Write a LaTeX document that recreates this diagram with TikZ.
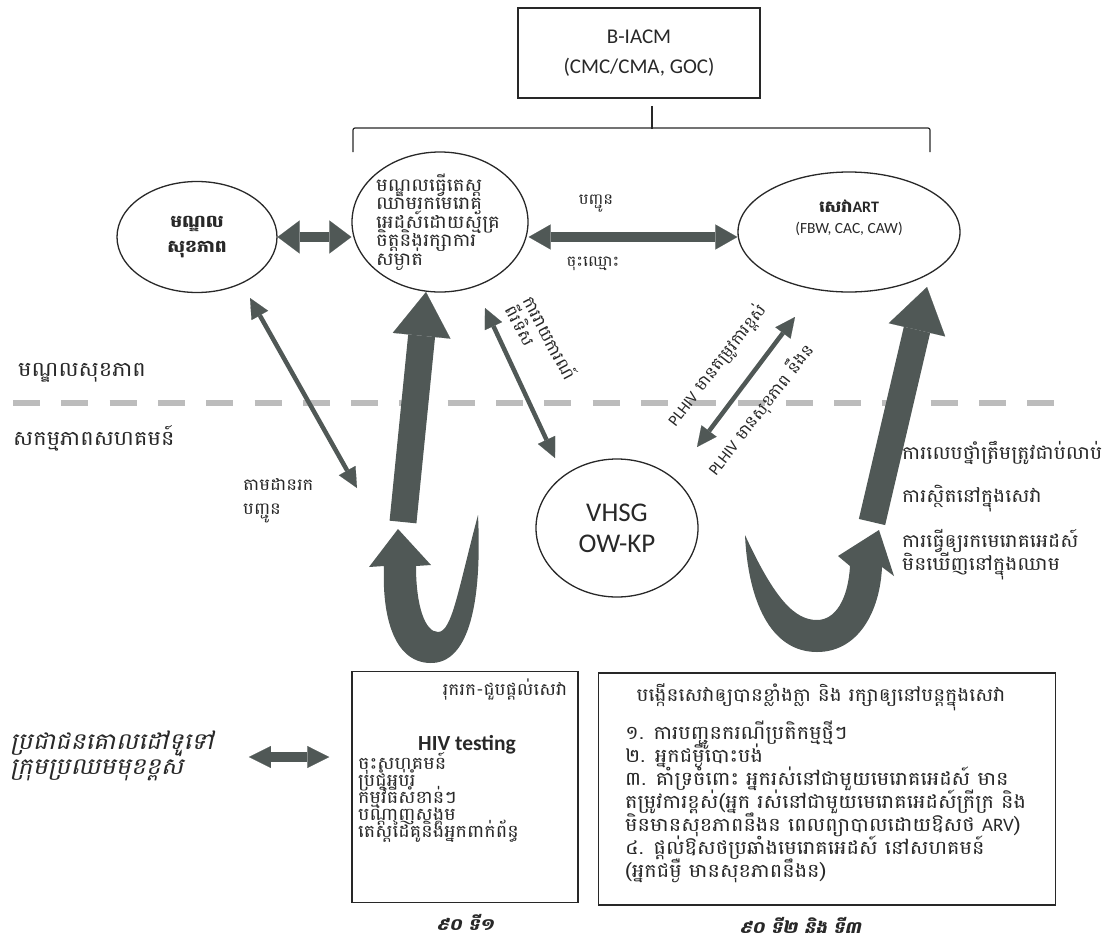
\documentclass[tikz,border=0pt]{standalone}
\usepackage{fontspec}
\setmainfont{Carlito}
\newfontfamily\kh[Script=Khmer,FakeStretch=1.1]{Battambang}
\newfontfamily\khit[Script=Khmer,FakeStretch=1.1,FakeSlant=0.22]{Battambang}
\usetikzlibrary{arrows.meta,shapes.geometric,positioning,calc}
\lineskiplimit=-100pt
\definecolor{arrgray}{RGB}{80,88,86}
\definecolor{inkgray}{RGB}{40,40,40}
\definecolor{dashgray}{RGB}{188,188,188}
\tikzset{
  ell/.style={ellipse,draw=inkgray,line width=1.3pt,inner sep=0pt},
  boxnode/.style={draw=inkgray,line width=1.5pt,inner sep=0pt},
  khtext/.style={font=\kh\fontsize{18}{20}\selectfont,text=inkgray,inner sep=0pt},
  thinarr/.style={arrgray,line width=4.5pt,
    {Triangle[width=19pt,length=20pt,line width=0.1pt]}-{Triangle[width=19pt,length=20pt,line width=0.1pt]}},
  widearr/.style={arrgray,line width=9.5pt,
    {Triangle[width=#1,length=22pt,line width=0.1pt]}-{Triangle[width=#1,length=22pt,line width=0.1pt]}},
  bigarr/.style={arrgray,line width=27pt,-{Triangle[width=58pt,length=44pt,line width=0.1pt]}},
  bracket/.style={inkgray,line width=1.2pt,rounded corners=2pt},
}
\begin{document}
\begin{tikzpicture}[x=1pt,y=-1pt]
\useasboundingbox (0,0) rectangle (1114,943);
% divider between facility and community
\draw[dashgray,line width=6pt,dash pattern=on 27pt off 21.3pt] (13,403) -- (1056,403);
\node[khtext,anchor=west,font=\kh\fontsize{20.5}{22}\selectfont] (facility) at (18,373) {មណ្ឌលសុខភាព};
\node[khtext,anchor=west,font=\kh\fontsize{20.5}{22}\selectfont] (community) at (13,438) {សកម្មភាពសហគមន៍};

% top box
\node[boxnode,minimum width=242,minimum height=90,align=center,font=\fontsize{21}{30}\selectfont,text=inkgray] (biacm) at (639,53) {B-IACM\\(CMC/CMA, GOC)};
\draw[bracket] (353,152) |- (930,128) -- (930,152);
\draw[bracket] ([xshift=13pt,yshift=-7pt]biacm.south) -- ++(0,23);

% services
\node[ell,minimum width=160,minimum height=111,align=center,khtext,font=\kh\bfseries\fontsize{17}{25}\selectfont] (health) at (197,237) {មណ្ឌល\\សុខភាព};
\node[ell,minimum width=176,minimum height=140] (vct) at (440,222) {};
\node[khtext,align=left,font=\kh\fontsize{18}{18.5}\selectfont] (vcttext) at ([xshift=-2pt]vct) {មណ្ឌលធ្វើតេស្ត\\ឈាមរកមេរោគ\\អេដស៍ដោយស្ម័គ្រ\\ចិត្តនិងរក្សាការ\\សម្ងាត់};
\node[ell,minimum width=222,minimum height=120] (art) at (849,232) {};
\node[khtext,align=center,font=\kh\fontsize{16}{18}\selectfont] (arttext) at (849,218) {{\bfseries សេវា{\normalfont\bfseries ART}}\\[3pt]{\normalfont\fontsize{15.5}{18}\selectfont (FBW, CAC, CAW)}};
\node[ell,minimum width=162,minimum height=138,align=center,font=\fontsize{27}{31}\selectfont,text=inkgray] (vhsg) at (617,528) {VHSG\\OW-KP};

\draw[widearr=33pt] (health.east) -- (vct.west |- health.east);
\draw[widearr=25pt] ($(vct.east |- art.west)+(0,5)$) -- ($(art.west)+(0,5)$);
\node[khtext,font=\kh\fontsize{15}{18}\selectfont] (refer) at (596,204) {បញ្ជូន};
\node[khtext,font=\kh\fontsize{15}{18}\selectfont] (regist) at (593,264) {ចុះឈ្មោះ};

% thin links
\coordinate (hvA) at (250,298);
\coordinate (hvB) at (357,488);
\coordinate (vtA) at (485,308);
\coordinate (vtB) at (555,458);
\coordinate (plA) at (697,447);
\coordinate (plB) at (795,317);
\draw[thinarr] (hvA) -- (hvB);
\draw[thinarr] (vtA) -- (vtB);
\draw[thinarr] (plA) -- (plB);
\node[khtext,align=left,anchor=north west,font=\kh\fontsize{16.5}{24}\selectfont] (followup) at (243,478) {តាមដានរក\\បញ្ជូន};
\node[khtext,align=left,rotate=-62,font=\kh\fontsize{16.5}{20}\selectfont] (report) at (542,342) {ការរាយការណ៍\\ពីរទិស};
\node[khtext,rotate=52,font=\kh\fontsize{16}{18}\selectfont] (plhivhigh) at (717,365) {{\normalfont PLHIV} មានតម្រូវការខ្ពស់};
\node[khtext,rotate=52,font=\kh\fontsize{16}{18}\selectfont] (plhivstable) at (761,410) {{\normalfont PLHIV} មានសុខភាព នឹងន};

% big arrows
\coordinate (bigL0) at (403,522);
\coordinate (bigL1) at (426,292);
\coordinate (bigR0) at (872,522);
\coordinate (bigR1) at (927,287);
\draw[bigarr] (bigL0) -- (bigL1);
\draw[bigarr] (bigR0) -- (bigR1);

% curved arrows
\fill[arrgray] (478,515) .. controls (482,600) and (470,664) .. (430,663)
  .. controls (392,662) and (382,612) .. (384,566) -- (369,567) -- (398,529)
  -- (431,565) -- (416,566) .. controls (416,606) and (425,632) .. (438,632)
  .. controls (452,632) and (458,590) .. (478,515) -- cycle;
\fill[arrgray] (745,535) .. controls (748,600) and (770,652) .. (817,652)
  .. controls (858,652) and (880,612) .. (882,567) -- (894,576) -- (879,530)
  -- (838,556) -- (850,566) .. controls (848,600) and (835,620) .. (817,620)
  .. controls (795,620) and (775,600) .. (745,535) -- cycle;

\node[khtext,anchor=west,font=\kh\fontsize{18.5}{20}\selectfont] (adher) at (902,453) {ការលេបថ្នាំត្រឹមត្រូវជាប់លាប់};
\node[khtext,anchor=west,font=\kh\fontsize{18.5}{20}\selectfont] (retain) at (902,499) {ការស្ថិតនៅក្នុងសេវា};
\node[khtext,anchor=west,align=left,font=\kh\fontsize{18.5}{23}\selectfont] (suppress) at (902,555) {ការធ្វើឲ្យរកមេរោគអេដស៍\\មិនឃើញនៅក្នុងឈាម};

% bottom boxes
\node[khtext,anchor=west,align=left,font=\khit\fontsize{23}{25}\selectfont] (target) at (10,756) {ប្រជាជនគោលដៅទូទៅ\\ក្រុមប្រឈមមុខខ្ពស់};
\node[boxnode,minimum width=226,minimum height=231] (find) at (465,787) {};
\draw[widearr=22pt] ($(target.east |- find.west)+(35,-30)$) -- ($(find.west)+(-22,-30)$);
\node[khtext,font=\kh\fontsize{17}{18}\selectfont] (findtitle) at (505,690) {រុករក-ជួបផ្ដល់សេវា};
\node[font=\bfseries\fontsize{21.5}{24}\selectfont,text=inkgray,inner sep=0pt] (hivtest) at (467,745) {HIV testing};
\node[khtext,anchor=north west,align=left,font=\kh\fontsize{17.5}{17}\selectfont] (findlist) at (358,752) {ចុះសហគមន៍\\ប្រជុំអប់រំ\\កម្មវិធីសំខាន់ៗ\\បណ្ដាញសង្គម\\តេស្តដៃគូនិងអ្នកពាក់ព័ន្ធ};
\node[khtext,font=\khit\bfseries\fontsize{16.5}{20}\selectfont] (ninetyA) at (465,922) {៩០ ទី១};

\node[boxnode,minimum width=457,minimum height=232] (boost) at (827,789) {};
\node[khtext,font=\kh\fontsize{18.3}{20}\selectfont] (boosttitle) at (821,697) {បង្កើនសេវាឲ្យបានខ្លាំងក្លា និង រក្សាឲ្យនៅបន្តក្នុងសេវា};
\node[khtext,anchor=north west,align=left,font=\kh\fontsize{19}{23}\selectfont] (boostlist) at (625,721) {១. ការបញ្ជូនករណីប្រតិកម្មថ្មីៗ\\២. អ្នកជម្ងឺបោះបង់\\៣. គាំទ្រចំពោះ អ្នករស់នៅជាមួយមេរោគអេដស៍ មាន\\តម្រូវការខ្ពស់(អ្នក រស់នៅជាមួយមេរោគអេដស៍ក្រីក្រ និង\\មិនមានសុខភាពនឹងន ពេលព្យាបាលដោយឱសថ {\normalfont ARV})\\៤. ផ្ដល់ឱសថប្រឆាំងមេរោគអេដស៍ នៅសហគមន៍\\(អ្នកជម្ងឺ មានសុខភាពនឹងន)};
\node[khtext,font=\khit\bfseries\fontsize{16.5}{20}\selectfont] (ninetyB) at (800,925) {៩០ ទី២ និង ទី៣};
\end{tikzpicture}
\end{document}
